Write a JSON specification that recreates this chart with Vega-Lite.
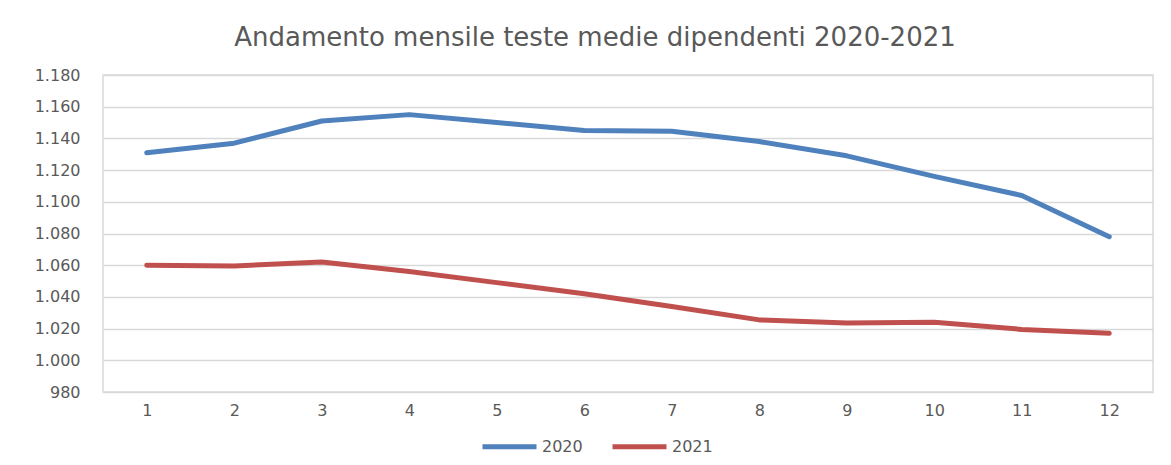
{
  "$schema": "https://vega.github.io/schema/vega-lite/v6.json",
  "width": 1050,
  "height": 317,
  "autosize": {"type": "none"},
  "padding": {"left": 103, "top": 75, "right": 18, "bottom": 73},
  "background": "white",
  "config": {
    "locale": {"number": {"decimal": ",", "thousands": ".", "grouping": [3], "currency": ["€", ""]}},
    "font": "DejaVu Sans",
    "view": {"stroke": "#d9d9d9", "strokeWidth": 1.5}
  },
  "title": {
    "text": "Andamento mensile teste medie dipendenti 2020-2021",
    "fontSize": 26,
    "fontWeight": "normal",
    "color": "#595959",
    "anchor": "middle",
    "dx": -33,
    "offset": 16,
    "font": "DejaVu Sans"
  },
  "data": {
    "values": [
      {"mese": "1", "anno": "2020", "teste": 1131},
      {"mese": "2", "anno": "2020", "teste": 1137},
      {"mese": "3", "anno": "2020", "teste": 1151},
      {"mese": "4", "anno": "2020", "teste": 1155},
      {"mese": "5", "anno": "2020", "teste": 1150},
      {"mese": "6", "anno": "2020", "teste": 1145},
      {"mese": "7", "anno": "2020", "teste": 1144.5},
      {"mese": "8", "anno": "2020", "teste": 1138},
      {"mese": "9", "anno": "2020", "teste": 1129},
      {"mese": "10", "anno": "2020", "teste": 1116},
      {"mese": "11", "anno": "2020", "teste": 1104},
      {"mese": "12", "anno": "2020", "teste": 1078},
      {"mese": "1", "anno": "2021", "teste": 1060},
      {"mese": "2", "anno": "2021", "teste": 1059.5},
      {"mese": "3", "anno": "2021", "teste": 1062},
      {"mese": "4", "anno": "2021", "teste": 1056},
      {"mese": "5", "anno": "2021", "teste": 1049},
      {"mese": "6", "anno": "2021", "teste": 1042},
      {"mese": "7", "anno": "2021", "teste": 1034},
      {"mese": "8", "anno": "2021", "teste": 1025.5},
      {"mese": "9", "anno": "2021", "teste": 1023.5},
      {"mese": "10", "anno": "2021", "teste": 1024},
      {"mese": "11", "anno": "2021", "teste": 1019.5},
      {"mese": "12", "anno": "2021", "teste": 1017}
    ]
  },
  "mark": {"type": "line", "strokeWidth": 5, "strokeCap": "round", "strokeJoin": "round"},
  "encoding": {
    "x": {
      "field": "mese",
      "type": "ordinal",
      "sort": ["1","2","3","4","5","6","7","8","9","10","11","12"],
      "scale": {"type": "point", "padding": 0.5},
      "axis": {
        "title": null,
        "labelAngle": 0,
        "labelFontSize": 16,
        "labelColor": "#595959",
        "labelPadding": 10,
        "ticks": false,
        "domain": false,
        "grid": false
      }
    },
    "y": {
      "field": "teste",
      "type": "quantitative",
      "scale": {"domain": [980, 1180], "nice": false, "zero": false},
      "axis": {
        "title": null,
        "values": [980, 1000, 1020, 1040, 1060, 1080, 1100, 1120, 1140, 1160, 1180],
        "format": ",d",
        "labelFontSize": 16,
        "labelColor": "#595959",
        "labelPadding": 23,
        "ticks": false,
        "domain": false,
        "grid": true,
        "gridColor": "#d9d9d9",
        "gridWidth": 1.5
      }
    },
    "color": {
      "field": "anno",
      "type": "nominal",
      "scale": {"domain": ["2020", "2021"], "range": ["#4f81bd", "#c0504d"]},
      "legend": {
        "title": null,
        "orient": "none",
        "direction": "horizontal",
        "legendX": 377,
        "legendY": 342,
        "symbolType": "stroke",
        "symbolSize": 2916,
        "symbolStrokeWidth": 5,
        "labelOffset": 3,
        "labelFontSize": 16,
        "labelColor": "#595959",
        "columnPadding": 19
      }
    }
  }
}
